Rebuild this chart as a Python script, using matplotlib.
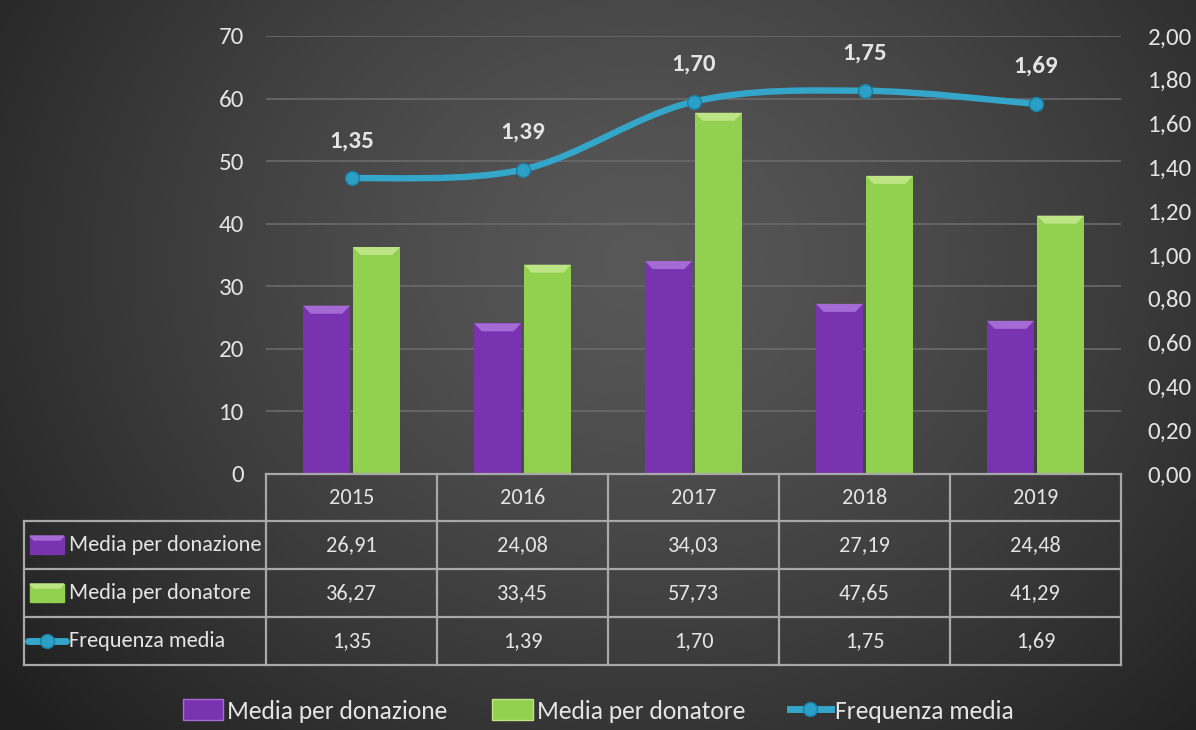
import numpy as np
import matplotlib
matplotlib.use("Agg")
import matplotlib.pyplot as plt
from matplotlib.patches import Patch, Polygon, Rectangle, PathPatch
from matplotlib.lines import Line2D
from matplotlib.path import Path

plt.rcParams['font.family'] = ['Carlito', 'DejaVu Sans']

# ---- data ----
years = ["2015", "2016", "2017", "2018", "2019"]
media_donazione = [26.91, 24.08, 34.03, 27.19, 24.48]
media_donatore = [36.27, 33.45, 57.73, 47.65, 41.29]
frequenza_media = [1.35, 1.39, 1.70, 1.75, 1.69]
series_names = ["Media per donazione", "Media per donatore", "Frequenza media"]
left_ticks = [0, 10, 20, 30, 40, 50, 60, 70]
right_ticks = [0.0, 0.2, 0.4, 0.6, 0.8, 1.0, 1.2, 1.4, 1.6, 1.8, 2.0]

PURPLE = "#7a33b0"
PURPLE_HI = "#a56bd4"
GREEN = "#92d050"
GREEN_HI = "#bde585"
BLUE = "#33a6c9"
TEXT = "#e4e4e4"
GRID = "#6a6a6a"
TABLE_LINE = "#a8a8a8"


def fmt(v):
    return f"{v:.2f}".replace(".", ",")


W, H = 1196, 730
fig = plt.figure(figsize=(W / 100, H / 100), dpi=100)

# radial background
bg = fig.add_axes([0, 0, 1, 1], zorder=-10)
yy, xx = np.mgrid[0:H, 0:W]
r = np.sqrt((xx - 640) ** 2 + ((yy - 260) / 0.85) ** 2) / 820
r = np.clip(r, 0, 1)
c0, c1 = 0.345, 0.12
shade = c0 - (c0 - c1) * r ** 1.3
bg.imshow(np.dstack([shade] * 3), extent=[0, W, H, 0], aspect="auto")
bg.set_xlim(0, W)
bg.set_ylim(H, 0)
bg.axis("off")

# main chart area
x0, x1 = 266, 1121
y_top, y_bot = 36, 474
ax = fig.add_axes([x0 / W, (H - y_bot) / H, (x1 - x0) / W, (y_bot - y_top) / H])
ax.patch.set_alpha(0)
x = np.arange(len(years))
ax.set_xlim(-0.5, len(years) - 0.5)
ax.set_ylim(0, 70)
ax.set_yticks(left_ticks)
ax.yaxis.grid(True, color=GRID, lw=1.2)
ax.set_axisbelow(True)
ax.tick_params(axis="y", length=0, pad=16, labelsize=18, labelcolor=TEXT)
ax.tick_params(axis="x", length=0, labelbottom=False)
for s in ax.spines.values():
    s.set_visible(False)

bw = 0.275
off = 0.146
bev_h = 1.28
bev_w = 0.045
for vals, dx, col, hi in [(media_donazione, -off, PURPLE, PURPLE_HI),
                          (media_donatore, off, GREEN, GREEN_HI)]:
    bars = ax.bar(x + dx, vals, width=bw, color=col, zorder=2)
    for b in bars:
        l, rr, h = b.get_x(), b.get_x() + b.get_width(), b.get_height()
        ax.add_patch(Polygon([[l, h], [rr, h], [rr - bev_w, h - bev_h], [l + bev_w, h - bev_h]],
                             closed=True, color=hi, zorder=3, lw=0))

# secondary axis with the smoothed line
ax2 = ax.twinx()
ax2.set_ylim(0, 2)
ax2.set_yticks(right_ticks)
ax2.set_yticklabels([fmt(v) for v in right_ticks])
ax2.tick_params(axis="y", length=0, pad=19, labelsize=18, labelcolor=TEXT)
for s in ax2.spines.values():
    s.set_visible(False)

pts = np.column_stack([x, frequenza_media]).astype(float)
verts = [tuple(pts[0])]
codes = [Path.MOVETO]
for i in range(len(pts) - 1):
    p_prev = pts[i - 1] if i > 0 else pts[i]
    p_next = pts[i + 2] if i + 2 < len(pts) else pts[i + 1]
    c1p = pts[i] + (pts[i + 1] - p_prev) / 6
    c2p = pts[i + 1] - (p_next - pts[i]) / 6
    verts += [tuple(c1p), tuple(c2p), tuple(pts[i + 1])]
    codes += [Path.CURVE4] * 3
ax2.add_patch(PathPatch(Path(verts, codes), fill=False, edgecolor=BLUE, lw=4.6,
                        capstyle="round", zorder=4))
ax2.plot(x, frequenza_media, ls="none", marker="o", ms=10, mfc="#2c9fc6",
         mec="#1b7fa3", mew=1, zorder=5)
for xi, v in zip(x, frequenza_media):
    ax2.annotate(fmt(v), (xi, v), xytext=(0, 27), textcoords="offset points",
                 ha="center", va="center", fontsize=18, fontweight="bold", color=TEXT)

# data table below the chart
tab = fig.add_axes([0, 0, 1, 1], zorder=1)
tab.patch.set_alpha(0)
tab.set_xlim(0, W)
tab.set_ylim(H, 0)
tab.axis("off")

rows = [y_bot, 521, 569, 617, 665]
col_edges = [x0 + (x1 - x0) * i / len(years) for i in range(len(years) + 1)]
lw_t = 1.6
tab.plot([x0, x1], [rows[0]] * 2, color=TABLE_LINE, lw=lw_t)
for yv in rows[1:]:
    tab.plot([24, x1], [yv] * 2, color=TABLE_LINE, lw=lw_t)
tab.plot([24, 24], [rows[1], rows[-1]], color=TABLE_LINE, lw=lw_t)
for xe in col_edges:
    tab.plot([xe, xe], [rows[0], rows[-1]], color=TABLE_LINE, lw=lw_t)

centers = [(col_edges[i] + col_edges[i + 1]) / 2 for i in range(len(years))]
row_mid = [(rows[i] + rows[i + 1]) / 2 for i in range(len(rows) - 1)]
for cx, yr in zip(centers, years):
    tab.text(cx, row_mid[0], yr, ha="center", va="center", fontsize=16, color=TEXT)
for ri, vals in enumerate([media_donazione, media_donatore, frequenza_media]):
    for cx, v in zip(centers, vals):
        tab.text(cx, row_mid[ri + 1], fmt(v), ha="center", va="center", fontsize=16, color=TEXT)
    tab.text(69, row_mid[ri + 1], series_names[ri], ha="left", va="center", fontsize=16, color=TEXT)

# key icons inside the table
for ri, (col, hi) in enumerate([(PURPLE, PURPLE_HI), (GREEN, GREEN_HI)]):
    yc = row_mid[ri + 1]
    tab.add_patch(Rectangle((30, yc - 9), 34, 18, color=col, zorder=3))
    tab.add_patch(Polygon([[30, yc - 9], [64, yc - 9], [60, yc - 5], [34, yc - 5]], color=hi, zorder=4))
yc = row_mid[3]
tab.plot([28, 66], [yc, yc], color=BLUE, lw=5, solid_capstyle="round")
tab.plot([47], [yc], marker="o", ms=10, mfc="#2c9fc6", mec="#1b7fa3")

# legend along the bottom
handles = [Patch(facecolor=PURPLE, edgecolor=PURPLE_HI, lw=1),
           Patch(facecolor=GREEN, edgecolor=GREEN_HI, lw=1),
           Line2D([], [], color=BLUE, lw=5, marker="o", ms=10, mfc="#2c9fc6", mec="#1b7fa3")]
fig.legend(handles, series_names, loc="center", bbox_to_anchor=(598 / W, (H - 711) / H),
           ncol=3, frameon=False, fontsize=18.4, labelcolor=TEXT, handlelength=1.6,
           handleheight=0.85, handletextpad=0.15, columnspacing=1.75)

fig.savefig("out.png", dpi=100)
